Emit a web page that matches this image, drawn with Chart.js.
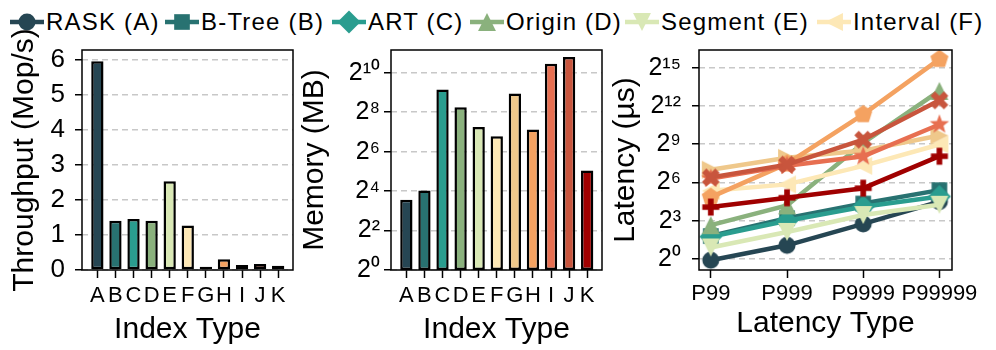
<!DOCTYPE html>
<html><head><meta charset="utf-8">
<script src="https://cdn.jsdelivr.net/npm/chart.js@4.4.1/dist/chart.umd.min.js"></script>
<style>
html,body{margin:0;padding:0;background:#fff;}
body{width:996px;height:350px;position:relative;overflow:hidden;font-family:"Liberation Sans",Arial,Helvetica,sans-serif;}
.cv{position:absolute;top:0;}
#legend{position:absolute;left:0;top:0;width:996px;height:44px;}
.li{position:absolute;top:0;height:44px;display:flex;align-items:center;font-size:24px;letter-spacing:1.2px;color:#000;white-space:nowrap;}
.li canvas{display:block;margin-right:2px;}
</style></head><body>
<div id="legend"></div>
<canvas id="c1" class="cv" width="298" height="350" style="left:0px"></canvas>
<canvas id="c2" class="cv" width="308" height="350" style="left:298px"></canvas>
<canvas id="c3" class="cv" width="390" height="350" style="left:606px"></canvas>
<script>
// ---------------- data ----------------
const indexLabels = ['A','B','C','D','E','F','G','H','I','J','K'];
const legendNames = ['RASK (A)','B-Tree (B)','ART (C)','Origin (D)','Segment (E)','Interval (F)'];
const throughput = [5.97, 1.41, 1.46, 1.41, 2.54, 1.27, 0.095, 0.31, 0.14, 0.17, 0.12];   // Mop/s
const memoryMB   = [11.8, 16.3, 568, 305, 152, 110, 494, 139, 1408, 1782, 33];          // MB
const latencyTypes = ['P99','P999','P9999','P99999'];
const latA = [0.933, 2.10, 6.73, 22.6];
const latB = [3.48, 9.19, 20.4, 42.2];
const latC = [3.36, 8.0, 17.1, 29.9];
const latD = [6.28, 18.4, 549, 9281];
const latE = [1.87, 4.35, 10.9, 19.0];
const latF = [40.8, 57.7, 158, 505];
const latG = [128, 244, 362, 820];
const latH = [28.8, 178, 2592, 52130];
const latI = [78.8, 158, 265, 1499];
const latJ = [84.4, 169, 653, 5557];
const latK = [16.8, 27.9, 46.9, 267];
const throughputTicks = [0,1,2,3,4,5,6];
const memoryTicks = [1,4,16,64,256,1024];
const latencyTicks = [1,8,64,512,4096,32768];
// --------------------------------------

const latencySeries = [latA,latB,latC,latD,latE,latF,latG,latH,latI,latJ,latK];
const palette = ['#264653','#287271','#2a9d8f','#8ab17d','#d9e8b5','#fde8b6','#efc88b','#f4a261','#e76f51','#c8553d','#a00000'];
const shapes = ['circle','square','diamond','triUp','triDown','triLeft','triRight','pentagon','star','xFilled','plusFilled'];

function makeMarker(shape, color, ms) {
  const S = 30, c = document.createElement('canvas');
  c.width = S; c.height = S;
  const g = c.getContext('2d');
  g.fillStyle = color; g.translate(S/2, S/2);
  const h = ms/2;
  g.beginPath();
  const poly = (pts, k) => { pts.forEach((p,i) => { const x=p[0]*h*k, y=p[1]*h*k; i ? g.lineTo(x,y) : g.moveTo(x,y); }); g.closePath(); };
  const reg = (n, R, inner) => {
    const pts = [];
    for (let i = 0; i < n; i++) {
      const a = i*2*Math.PI/n;
      pts.push([Math.sin(a)*R, -Math.cos(a)*R]);
      if (inner) { const b = a + Math.PI/n; pts.push([Math.sin(b)*R*inner, -Math.cos(b)*R*inner]); }
    }
    poly(pts, 1);
  };
  switch (shape) {
    case 'circle': g.arc(0,0,h,0,2*Math.PI); break;
    case 'square': poly([[-1,-1],[1,-1],[1,1],[-1,1]], 0.92); break;
    case 'diamond': poly([[0,-1.35],[1.35,0],[0,1.35],[-1.35,0]], 1); break;
    case 'triUp': poly([[0,-1],[1,1],[-1,1]], 1.05); break;
    case 'triDown': poly([[0,1],[1,-1],[-1,-1]], 1.05); break;
    case 'triLeft': poly([[-1,0],[1,-1],[1,1]], 1.05); break;
    case 'triRight': poly([[1,0],[-1,-1],[-1,1]], 1.05); break;
    case 'pentagon': reg(5, 1.12, 0); break;
    case 'star': reg(5, 1.2, 0.42); break;
    case 'xFilled': poly([[-1,-2],[0,-1],[1,-2],[2,-1],[1,0],[2,1],[1,2],[0,1],[-1,2],[-2,1],[-1,0],[-2,-1]].map(p=>[p[0]/2,p[1]/2]), 1.05); break;
    case 'plusFilled': poly([[-1,-3],[1,-3],[1,-1],[3,-1],[3,1],[1,1],[1,3],[-1,3],[-1,1],[-3,1],[-3,-1],[-1,-1]].map(p=>[p[0]/3,p[1]/3]), 1.0); break;
  }
  g.fill();
  return c;
}
const markers = shapes.map((s,i) => makeMarker(s, palette[i], 17));

// legend (HTML)
const legendX = [10,165,332,470,625,817];
const leg = document.getElementById('legend');
legendNames.forEach((name, i) => {
  const d = document.createElement('div');
  d.className = 'li'; d.style.left = legendX[i] + 'px';
  const ic = document.createElement('canvas'); ic.width = 34; ic.height = 26;
  const g = ic.getContext('2d');
  g.strokeStyle = palette[i]; g.lineWidth = 4.5;
  g.beginPath(); g.moveTo(0,13); g.lineTo(34,13); g.stroke();
  g.drawImage(markers[i], 17-15, 13-15);
  d.appendChild(ic);
  const t = document.createElement('span'); t.textContent = name;
  d.appendChild(t);
  leg.appendChild(d);
});

Chart.defaults.font.family = '"Liberation Sans", Arial, Helvetica, sans-serif';
Chart.defaults.color = '#000';

const supMap = {'0':'⁰','1':'¹','2':'²','3':'³','4':'⁴','5':'⁵','6':'⁶','7':'⁷','8':'⁸','9':'⁹','-':'⁻'};
const pow2Label = v => '2' + String(Math.round(Math.log2(v))).split('').map(ch => supMap[ch]).join('');

const framePlugin = {
  id: 'frame',
  afterDraw(chart) {
    const {ctx, chartArea: a} = chart;
    ctx.save(); ctx.strokeStyle = '#000'; ctx.lineWidth = 1.5;
    ctx.strokeRect(a.left, a.top, a.right - a.left, a.bottom - a.top);
    ctx.restore();
  }
};

function yScale(o) {
  return Object.assign({
    grid: {color:'#c8c8c8', lineWidth:1.5, tickColor:'#000', tickLength:7, tickWidth:1.5, drawOnChartArea:true},
    border: {display:false, dash:[6,4]},
    afterFit: s => { s.width = o.width; },
    afterBuildTicks: s => { s.ticks = o.ticks.map(v => ({value:v})); },
    ticks: {font:{size:o.fontSize, lineHeight:1}, padding:o.pad, callback:o.cb},
    title: {display:true, text:o.title, font:{size:30, lineHeight:1}, padding:{top:o.tpad, bottom:0}, color:'#000'}
  }, o.extra);
}
function xScale(o) {
  return {
    type:'linear', min:o.min, max:o.max, offset:false,
    grid: {drawOnChartArea:false, offset:false, tickColor:'#000', tickLength:8, tickWidth:1.5},
    border: {display:false},
    afterFit: s => { s.height = 80; },
    afterBuildTicks: s => { s.ticks = o.labels.map((_, i) => ({value:i})); },
    ticks: {font:{size:22, lineHeight:1}, padding:o.pad, autoSkip:false, maxRotation:0, minRotation:0,
            callback: v => o.labels[v]},
    title: {display:true, text:o.title, font:{size:30, lineHeight:1}, padding:{top:0, bottom:o.tpad}, color:'#000'}
  };
}
const common = {responsive:false, animation:false, events:[], plugins:{legend:{display:false}, tooltip:{enabled:false}}};
const barStyle = {borderColor:'#000', borderWidth:2.5, borderSkipped:false, inflateAmount:0, categoryPercentage:1, barPercentage:0.68};

// Panel 1: throughput
new Chart(document.getElementById('c1'), {
  type:'bar',
  data:{datasets:[Object.assign({data: throughput.map((v,i)=>({x:i, y:v})), backgroundColor: palette}, barStyle)]},
  options: Object.assign({}, common, {
    layout:{padding:{top:50, right:5, bottom:0, left:0}},
    scales:{
      x: xScale({min:-0.85, max:10.82, labels:indexLabels, pad:6.5, title:'Index Type', tpad:5.5}),
      y: yScale({width:82, ticks:throughputTicks, fontSize:26, pad:10, cb:v=>String(v), title:'Throughput (Mop/s)', tpad:10,
                 extra:{type:'linear', min:0, max:6.29}})
    }
  }),
  plugins:[framePlugin]
});

// Panel 2: memory
new Chart(document.getElementById('c2'), {
  type:'bar',
  data:{datasets:[Object.assign({data: memoryMB.map((v,i)=>({x:i, y:v})), backgroundColor: palette}, barStyle)]},
  options: Object.assign({}, common, {
    layout:{padding:{top:50, right:4, bottom:0, left:0}},
    scales:{
      x: xScale({min:-0.85, max:10.82, labels:indexLabels, pad:6.5, title:'Index Type', tpad:5.5}),
      y: yScale({width:93, ticks:memoryTicks, fontSize:25, pad:4, cb:pow2Label, title:'Memory (MB)', tpad:2,
                 extra:{type:'logarithmic', min:1, max:Math.pow(2,11.15)}})
    }
  }),
  plugins:[framePlugin]
});

// Panel 3: latency
new Chart(document.getElementById('c3'), {
  type:'line',
  data:{datasets: latencySeries.map((vals, i) => ({
    label: indexLabels[i],
    data: vals.map((v,j)=>({x:j, y:v})),
    borderColor: palette[i], backgroundColor: palette[i], borderWidth:4.5,
    pointStyle: markers[i], pointRadius:8, pointHoverRadius:8, pointBorderWidth:0,
    tension:0, fill:false, order: 10 - i, clip:false
  }))},
  options: Object.assign({}, common, {
    layout:{padding:{top:50, right:44, bottom:0, left:0}},
    scales:{
      x: xScale({min:-0.155, max:3.165, labels:latencyTypes, pad:5, title:'Latency Type', tpad:11.5}),
      y: yScale({width:93, ticks:latencyTicks, fontSize:25, pad:11, cb:pow2Label, title:'Latency (µs)', tpad:5,
                 extra:{type:'logarithmic', min:Math.pow(2,-0.865), max:Math.pow(2,16.39)}})
    }
  }),
  plugins:[framePlugin]
});
</script>
</body></html>
